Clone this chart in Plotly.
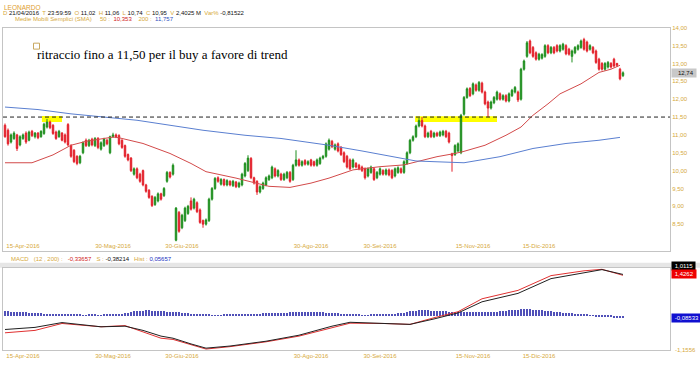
import plotly.graph_objects as go

# ---------------- data ----------------
open_ = [11.27,11.13,10.80,10.90,11.00,10.72,10.90,11.05,10.85,11.10,10.95,11.05,10.95,11.04,11.22,11.36,11.27,11.08,10.95,11.05,
         11.00,11.29,10.70,10.57,10.40,10.22,10.50,10.85,10.70,10.88,10.70,10.90,10.60,10.70,10.85,10.50,10.95,11.00,10.98,10.85,
         10.70,10.45,10.35,9.90,10.05,9.90,10.00,9.60,9.45,9.28,9.05,9.15,9.35,9.30,9.70,9.95,9.90,8.05,8.83,8.40,
         8.60,8.80,9.15,8.95,9.10,8.90,8.60,8.50,8.60,9.20,9.50,9.80,9.62,9.75,9.60,9.70,9.58,9.68,9.55,9.60,
         9.85,10.00,10.34,9.80,9.70,9.40,9.50,9.60,9.75,9.80,10.05,9.85,9.90,9.75,9.80,9.95,9.75,10.15,10.30,10.15,
         10.28,10.18,10.30,10.25,10.15,10.20,10.35,10.40,10.60,10.82,10.60,10.75,10.65,10.50,10.40,10.30,10.10,10.20,10.15,10.10,
         10.05,9.85,9.95,10.05,9.80,9.90,10.00,9.90,10.02,10.00,9.85,9.95,10.05,9.95,10.20,10.50,10.85,10.95,11.25,11.40,
         11.25,10.95,11.10,10.95,11.05,10.98,11.00,11.10,11.05,10.47,10.45,10.55,10.50,11.58,12.05,12.30,12.15,12.40,12.25,12.45,
         12.20,11.92,11.75,11.90,12.00,12.15,12.00,12.10,11.95,12.10,12.20,12.20,12.00,12.84,13.20,13.63,13.45,13.30,13.12,13.15,
         13.20,13.50,13.30,13.45,13.50,13.35,13.40,13.50,13.40,13.20,13.30,13.40,13.45,13.67,13.60,13.40,13.45,13.35,13.12,13.00,
         12.84,12.90,13.00,13.12,13.00,12.84,12.66]
high = [11.32,11.18,11.04,11.10,11.03,10.99,11.04,11.10,11.12,11.14,11.08,11.08,11.13,11.34,11.45,11.40,11.30,11.12,11.14,11.08,
        11.04,11.33,10.74,10.60,10.43,10.44,10.82,10.90,10.89,10.92,10.94,10.94,10.82,10.92,10.89,10.98,11.06,11.04,11.02,10.88,
        10.73,10.48,10.38,10.09,10.09,9.94,10.03,9.63,9.48,9.31,9.29,9.39,9.38,9.54,9.99,9.98,10.20,8.98,8.87,8.79,
        8.99,9.04,9.25,9.24,9.14,8.94,8.63,8.66,9.24,9.54,9.82,9.84,9.79,9.78,9.76,9.73,9.74,9.71,9.69,9.94,
        10.24,10.43,10.38,9.83,9.73,9.59,9.69,9.84,9.89,10.14,10.09,10.04,9.94,9.94,9.99,9.99,10.19,10.57,10.34,10.29,
        10.32,10.29,10.33,10.28,10.34,10.39,10.44,10.79,10.90,10.86,10.76,10.79,10.69,10.54,10.44,10.34,10.34,10.24,10.19,10.14,
        10.09,10.09,10.14,10.09,9.99,10.09,10.04,10.06,10.06,10.04,10.09,10.12,10.09,10.29,10.54,10.89,10.99,11.29,11.48,11.50,
        11.29,11.09,11.14,11.09,11.09,11.12,11.14,11.14,11.09,10.50,10.74,10.79,11.59,12.09,12.33,12.34,12.47,12.44,12.51,12.49,
        12.24,11.96,11.96,12.09,12.24,12.19,12.14,12.14,12.19,12.29,12.37,12.24,12.88,13.11,13.63,13.67,13.49,13.34,13.30,13.29,
        13.54,13.54,13.49,13.49,13.54,13.54,13.58,13.54,13.44,13.39,13.49,13.54,13.67,13.72,13.64,13.54,13.49,13.39,13.16,13.04,
        13.04,13.07,13.04,13.16,13.02,12.88,12.78]
low = [10.92,10.70,10.76,10.86,10.55,10.68,10.86,10.75,10.82,10.94,10.90,10.88,10.92,11.00,11.18,11.16,11.00,10.86,10.92,10.82,
       10.76,10.68,10.36,10.21,10.15,10.18,10.46,10.66,10.66,10.68,10.66,10.60,10.56,10.66,10.71,10.46,10.92,10.91,10.71,10.61,
       10.36,10.26,9.96,9.86,9.76,9.66,9.56,9.38,9.21,8.98,9.01,9.11,9.16,9.26,9.66,9.78,9.86,8.02,8.26,8.36,
       8.56,8.76,8.88,8.91,8.81,8.51,8.40,8.46,8.56,9.16,9.46,9.66,9.58,9.56,9.56,9.56,9.54,9.51,9.51,9.56,
       9.81,9.96,9.76,9.61,9.32,9.36,9.46,9.56,9.71,9.76,9.81,9.81,9.71,9.71,9.76,9.66,9.71,10.11,10.11,10.11,
       10.14,10.14,10.11,10.11,10.11,10.16,10.31,10.36,10.56,10.63,10.56,10.51,10.41,10.21,10.06,10.01,10.06,10.06,10.01,9.96,
       9.75,9.81,9.91,9.71,9.76,9.86,9.86,9.86,9.84,9.76,9.81,9.91,9.91,9.91,10.16,10.46,10.81,10.91,11.21,11.21,
       10.91,10.91,10.91,10.91,10.94,10.94,10.96,10.91,10.76,9.97,10.41,10.51,10.46,11.54,12.01,12.06,12.11,12.21,12.21,12.16,
       11.83,11.50,11.71,11.86,11.96,11.96,11.96,11.91,11.91,12.06,12.16,11.92,11.96,12.80,13.16,13.26,13.16,13.08,13.08,13.11,
       13.16,13.26,13.26,13.26,13.31,13.31,13.36,13.23,13.22,13.03,13.26,13.36,13.41,13.36,13.31,13.36,13.26,12.99,12.80,12.80,
       12.80,12.86,12.86,12.89,12.90,12.53,12.62]
close = [10.95,10.75,11.00,11.05,10.62,10.95,11.00,10.80,11.08,10.98,11.05,10.92,11.10,11.30,11.36,11.20,11.04,10.90,11.10,10.85,
         10.80,10.72,10.40,10.25,10.20,10.40,10.78,10.70,10.85,10.72,10.90,10.65,10.78,10.88,10.75,10.95,11.00,10.95,10.75,10.65,
         10.40,10.30,10.00,10.05,9.80,9.70,9.60,9.42,9.25,9.02,9.25,9.35,9.20,9.50,9.95,9.82,10.15,8.95,8.30,8.75,
         8.95,9.00,8.92,9.20,8.85,8.55,8.50,8.62,9.20,9.50,9.78,9.70,9.75,9.60,9.72,9.60,9.70,9.55,9.65,9.90,
         10.20,10.35,9.80,9.65,9.40,9.55,9.65,9.80,9.85,10.10,9.85,10.00,9.75,9.90,9.95,9.70,10.15,10.30,10.15,10.25,
         10.18,10.25,10.15,10.15,10.30,10.35,10.40,10.75,10.85,10.67,10.72,10.55,10.45,10.25,10.10,10.05,10.30,10.10,10.05,10.00,
         9.80,10.05,10.10,9.75,9.95,10.05,9.90,10.02,9.88,9.80,10.05,10.08,9.95,10.25,10.50,10.85,10.95,11.25,11.40,11.25,
         10.95,11.05,10.95,11.05,10.98,11.08,11.10,10.95,10.80,10.42,10.70,10.75,11.55,12.05,12.29,12.10,12.43,12.25,12.47,12.20,
         11.87,11.75,11.92,12.05,12.20,12.00,12.10,11.95,12.15,12.25,12.33,11.98,12.84,13.07,13.58,13.30,13.20,13.12,13.26,13.25,
         13.50,13.30,13.45,13.30,13.35,13.50,13.54,13.27,13.26,13.35,13.45,13.50,13.63,13.40,13.35,13.50,13.30,13.03,12.84,12.84,
         13.00,13.03,12.90,12.93,12.95,12.57,12.74]

sma50_idx = [0, 9, 16, 22, 27, 36, 38, 46, 55, 62, 67, 77, 88, 95, 102, 108, 116, 125, 133, 137, 144, 150, 153,
             160, 167, 172, 176, 181, 185, 192, 198, 202, 205]
sma50_val = [10.22, 10.22, 10.44, 10.71, 10.82, 10.94, 10.92, 10.76, 10.48, 10.20, 9.97, 9.79, 9.56, 9.53, 9.65,
             9.79, 10.02, 10.11, 10.16, 10.25, 10.39, 10.48, 10.54, 10.71, 10.99, 11.22, 11.55, 11.87, 12.15, 12.43,
             12.75, 12.84, 12.95]
sma200_idx = [0, 11, 22, 33, 44, 55, 66, 75, 80, 92, 108, 119, 131, 137, 143, 153, 165, 176, 187, 198, 205]
sma200_val = [11.78, 11.71, 11.59, 11.50, 11.41, 11.27, 11.13, 11.04, 10.99, 10.90, 10.71, 10.55, 10.35, 10.27,
              10.25, 10.22, 10.39, 10.62, 10.76, 10.85, 10.93]

macd_idx = [0, 10, 19, 32, 40, 46, 52, 56, 62, 67, 75, 87, 98, 109, 115, 126, 135, 143, 151, 159, 171, 182, 193, 199, 206]
macd_val = [-0.47, -0.40, -0.24, -0.38, -0.36, -0.50, -0.69, -0.76, -0.95, -1.09, -1.02, -0.86, -0.66, -0.36, -0.23,
            -0.26, -0.30, -0.12, 0.08, 0.45, 0.73, 1.22, 1.42, 1.52, 1.36]
signal_val = [-0.58, -0.50, -0.27, -0.38, -0.34, -0.55, -0.76, -0.80, -0.98, -1.12, -1.04, -0.88, -0.69, -0.40, -0.26,
              -0.27, -0.30, -0.08, 0.12, 0.55, 0.83, 1.32, 1.48, 1.53, 1.33]
hist = [0.14,0.14,0.13,0.13,0.12,0.12,0.11,0.11,0.10,0.10,0.09,0.08,
        0.07,0.06,0.06,0.05,0.05,0.05,0.04,0.04,0.04,0.03,0.03,
        0.02,0.02,0.02,0.01,0.01,0.02,0.02,0.02,0.01,0.01,0.02,0.02,0.02,0.03,0.03,0.04,0.05,
        0.08,0.10,0.12,0.14,0.15,0.16,0.16,0.17,0.17,0.16,0.16,0.15,0.15,0.14,0.13,0.13,0.12,0.12,0.11,0.10,0.09,
        0.07,0.06,0.05,0.04,0.03,0.03,0.02,
        0.02,0.01,0.01,0.01,0.01,0.02,0.02,0.02,0.02,0.02,0.02,0.03,0.03,0.03,0.04,
        0.05,0.06,0.06,0.07,0.07,0.08,0.08,0.09,0.09,0.10,0.10,0.10,0.11,0.11,0.11,0.12,0.12,0.12,0.12,0.12,0.12,0.12,
        0.11,0.11,0.10,0.10,0.09,0.08,0.07,0.06,0.05,0.04,0.03,
        0.02,0.02,0.02,0.01,0.01,0.01,0.02,0.02,0.02,0.02,0.03,0.03,0.04,0.05,0.06,0.07,0.08,0.10,
        0.12,0.14,0.15,0.16,0.17,0.17,0.17,0.17,0.16,0.16,0.15,0.15,0.14,0.14,0.13,0.13,0.12,0.12,
        0.12,0.12,0.13,0.13,0.13,0.13,0.13,0.12,0.12,0.12,0.12,0.13,0.13,0.14,0.15,0.16,0.17,0.18,0.19,
        0.20,0.21,0.22,0.22,0.21,0.20,0.19,0.18,
        0.17,0.16,0.15,0.14,0.13,0.12,0.11,0.10,0.09,0.08,0.07,0.06,0.05,0.04,
        0.03,0.02,0.01,-0.01,-0.02,-0.03,-0.04,-0.05,-0.05,-0.06,-0.07,-0.07,-0.08,-0.085]

tick_idx = [6, 36, 59, 102, 125, 156, 178]
tick_text = ["15-Apr-2016", "30-Mag-2016", "30-Giu-2016", "30-Ago-2016", "30-Set-2016", "15-Nov-2016", "15-Dic-2016"]
price_ticks = [8.5, 9.0, 9.5, 10.0, 10.5, 11.0, 11.5, 12.0, 12.5, 13.0, 13.5, 14.0]
last_price = 12.74
level = 11.5
zones = [(12.3, 19.0, 11.36, 11.53), (136.7, 164.0, 11.36, 11.52)]
note = "ritraccio fino a 11,50 per il buy a favore di trend"

# ---------------- figure ----------------
W, H = 700, 365
def fx(p): return p / W
def fy(p): return 1 - p / H

GOLD = "#d6a93c"
GREEN = "#1f8f1f"
RED = "#e3202a"
x = list(range(len(close)))

fig = go.Figure()
fig.add_trace(go.Candlestick(
    x=x, open=open_, high=high, low=low, close=close,
    increasing=dict(line=dict(color=GREEN, width=1), fillcolor=GREEN),
    decreasing=dict(line=dict(color=RED, width=1), fillcolor=RED),
    whiskerwidth=0, showlegend=False, hoverinfo="skip", xaxis="x", yaxis="y"))
fig.add_trace(go.Scatter(x=sma50_idx, y=sma50_val, mode="lines", line=dict(color="#d24a4a", width=1),
                         showlegend=False, xaxis="x", yaxis="y"))
fig.add_trace(go.Scatter(x=sma200_idx, y=sma200_val, mode="lines", line=dict(color="#5a7fd0", width=1),
                         showlegend=False, xaxis="x", yaxis="y"))
fig.add_trace(go.Bar(x=x, y=hist, width=0.3, marker=dict(color="#5050b8", line=dict(width=0)),
                     showlegend=False, xaxis="x2", yaxis="y2"))
fig.add_trace(go.Scatter(x=macd_idx, y=signal_val, mode="lines", line=dict(color="#e03030", width=1),
                         showlegend=False, xaxis="x2", yaxis="y2"))
fig.add_trace(go.Scatter(x=macd_idx, y=macd_val, mode="lines", line=dict(color="#202020", width=1),
                         showlegend=False, xaxis="x2", yaxis="y2"))

xr = [-0.67, 221.67]
axis_common = dict(showgrid=False, zeroline=False, showline=True, linecolor="#c4c4c4", linewidth=1,
                   mirror=True, ticks="")
tickfont = dict(family="Liberation Sans", size=6, color=GOLD)

fig.update_layout(
    width=W, height=H, margin=dict(l=0, r=0, t=0, b=0),
    paper_bgcolor="white", plot_bgcolor="white", separators=",.",
    showlegend=False, bargap=0,
    xaxis=dict(domain=[fx(3), fx(670)], range=xr, anchor="y", tickvals=tick_idx, ticktext=tick_text,
               tickfont=tickfont, ticklabelposition="inside", rangeslider=dict(visible=False), **axis_common),
    yaxis=dict(domain=[fy(250), fy(25)], range=[7.75, 14.0], side="right", anchor="x",
               tickvals=price_ticks, tickformat=".2f", tickfont=tickfont, **axis_common),
    xaxis2=dict(domain=[fx(3), fx(670)], range=xr, anchor="y2", tickvals=tick_idx, ticktext=tick_text,
                tickfont=tickfont, **axis_common),
    yaxis2=dict(domain=[fy(350), fy(267)], range=[-1.1556, 1.58], side="right", anchor="x2",
                showticklabels=False, **axis_common),
)

shapes = []
for (a, b, c, d) in zones:
    shapes.append(dict(type="rect", xref="x", yref="y", x0=a, x1=b, y0=c, y1=d,
                       fillcolor="#ffff00", line=dict(width=0), layer="below"))
shapes.append(dict(type="line", xref="paper", yref="y", x0=fx(3), x1=fx(670), y0=level, y1=level,
                   line=dict(color="#222222", width=1, dash="4px,3px")))
shapes.append(dict(type="rect", xref="paper", yref="paper", x0=0, x1=1, y0=fy(267), y1=fy(262),
                   fillcolor="#e6e6e6", line=dict(width=0), layer="below"))
shapes.append(dict(type="rect", xref="paper", yref="paper", x0=fx(33.5), x1=fx(39.5), y0=fy(46.5), y1=fy(40.5),
                   fillcolor="rgba(0,0,0,0)", line=dict(color="#c8a860", width=1)))
fig.update_layout(shapes=shapes)

NB = "\u00a0"
def sp(t, c): return f"<span style='color:{c}'>{t}</span>"
K = "#111111"
line2 = (f"D{NB}{sp('21/04/2016', K)}{NB*2}T{NB}{sp('23:59:59', K)}{NB*2}O{NB}{sp('11,02', K)}{NB*2}"
         f"H{NB}{sp('11,06', K)}{NB*2}L{NB}{sp('10,74', K)}{NB*2}C{NB}{sp('10,95', K)}{NB*2}"
         f"V{NB}{sp('2,4025 M', K)}{NB*2}Var%{NB}{sp('-0,81522', K)}")
line3 = (f"Medie Mobili Semplici (SMA){NB*5}50{NB}:{NB*2}{sp('10,353', '#d02020')}{NB*4}200{NB}:{NB*2}"
         f"{sp('11,757', '#3050c0')}")
macd_hdr = (f"MACD{NB*3}(12{NB},{NB}200){NB}:{NB*3}{sp('-0,33657', '#d02020')}{NB*3}S{NB}:{NB}"
            f"{sp('-0,38214', K)}{NB*3}Hist{NB}:{NB}{sp('0,05657', '#2030c0')}")

hf = dict(family="Liberation Sans", size=6, color=GOLD)
ann = [
    dict(x=fx(2), y=fy(4.5), text="LEONARDO", font=dict(family="Liberation Sans", size=6.5, color="#e0a030")),
    dict(x=fx(1), y=fy(10.5), text=line2, font=hf),
    dict(x=fx(13), y=fy(16.5), text=line3, font=hf),
    dict(x=fx(9), y=fy(258), text=macd_hdr, font=hf),
    dict(x=fx(35), y=fy(52), text=note, font=dict(family="Liberation Serif", size=13, color="#000000")),
]
for a in ann:
    a.update(xref="paper", yref="paper", xanchor="left", yanchor="middle", showarrow=False)

ann.append(dict(x=fx(671), y=last_price, xref="paper", yref="y", xanchor="left", yanchor="middle",
                showarrow=False, text=f"{NB*3}12,74{NB}", bgcolor="#c8c8c8", borderpad=1,
                font=dict(family="Liberation Sans", size=6, color="#111111")))
for (yy, txt, bg, fc) in [(265, "1,0115", "#000000", "#ffffff"), (273, "1,4262", "#ee0000", "#ffffff"),
                          (318, "-0,08533", "#1010d0", "#ffffff")]:
    ann.append(dict(x=fx(671), y=fy(yy), xref="paper", yref="paper", xanchor="left", yanchor="middle",
                    showarrow=False, text=f"{NB}{txt}{NB}", bgcolor=bg, borderpad=1,
                    font=dict(family="Liberation Sans", size=6, color=fc)))
ann.append(dict(x=fx(673), y=fy(350), xref="paper", yref="paper", xanchor="left", yanchor="middle",
                showarrow=False, text="-1,1556", font=dict(family="Liberation Sans", size=6, color=GOLD)))
fig.update_layout(annotations=ann)

fig.write_html("out.html", config={"displayModeBar": False},
               post_script="document.body.style.margin='0';document.body.style.overflow='hidden';")
